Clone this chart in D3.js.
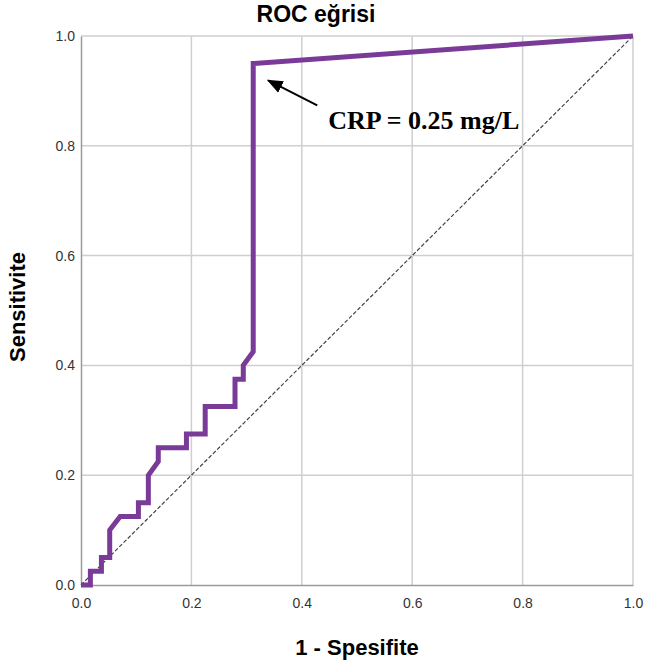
<!DOCTYPE html>
<html>
<head>
<meta charset="utf-8">
<script src="https://cdn.jsdelivr.net/npm/d3@7"></script>
<style>
  body { margin: 0; background: #fff; }
</style>
</head>
<body>
<div id="app"></div>
<script>
  'use strict'

  // 1 - specificity / sensitivity of the ROC steps
  const fpr = [0, 0.017, 0.017, 0.037, 0.037, 0.052, 0.052, 0.071, 0.104, 0.104, 0.122, 0.122, 0.14, 0.14, 0.191, 0.191, 0.225, 0.225, 0.279, 0.279, 0.294, 0.294, 0.312, 0.312, 1]
  const tpr = [0, 0, 0.025, 0.025, 0.05, 0.05, 0.1, 0.125, 0.125, 0.15, 0.15, 0.2, 0.225, 0.25, 0.25, 0.275, 0.275, 0.325, 0.325, 0.375, 0.375, 0.4, 0.425, 0.95, 1]
  const ticks = [0, 0.2, 0.4, 0.6, 0.8, 1.0]
  const refLine = [0, 1]
  const cutoff = { x: 0.312, y: 0.95, label: 'CRP = 0.25 mg/L' }

  const W = 646, H = 670
  const margin = { left: 81, right: 12, top: 36, bottom: 85 }

  const svg = d3.select('#app').append('svg')
    .attr('width', W)
    .attr('height', H)
    .style('font-family', 'Liberation Sans, Arial, sans-serif')

  const x = d3.scaleLinear().domain([0, 1]).range([margin.left, W - margin.right - 1])
  const y = d3.scaleLinear().domain([0, 1]).range([H - margin.bottom, margin.top])

  // grid
  svg.append('g').selectAll('line.v')
    .data(ticks.slice(1))
    .enter().append('line')
    .attr('x1', d => x(d)).attr('x2', d => x(d))
    .attr('y1', y(0)).attr('y2', y(1))
    .attr('stroke', '#cfcfcf').attr('stroke-width', 1.5)
  svg.append('g').selectAll('line.h')
    .data(ticks.slice(1))
    .enter().append('line')
    .attr('x1', x(0)).attr('x2', x(1))
    .attr('y1', d => y(d)).attr('y2', d => y(d))
    .attr('stroke', '#cfcfcf').attr('stroke-width', 1.5)

  // axes
  const xAxis = svg.append('g')
    .attr('transform', `translate(0,${y(0)})`)
    .call(d3.axisBottom(x).tickValues(ticks).tickFormat(d3.format('.1f')).tickSize(0).tickPadding(13))
  const yAxis = svg.append('g')
    .attr('transform', `translate(${x(0)},0)`)
    .call(d3.axisLeft(y).tickValues(ticks).tickFormat(d3.format('.1f')).tickSize(0).tickPadding(6))
  ;[xAxis, yAxis].forEach(a => {
    a.select('.domain').attr('stroke', '#9a9a9a').attr('stroke-width', 1.5)
    a.selectAll('text').attr('font-size', 14).attr('fill', '#333')
      .style('font-family', 'Liberation Sans, Arial, sans-serif')
  })

  // reference diagonal
  svg.append('line')
    .attr('x1', x(refLine[0])).attr('y1', y(refLine[0]))
    .attr('x2', x(refLine[1])).attr('y2', y(refLine[1]))
    .attr('stroke', '#444').attr('stroke-width', 1.2)
    .attr('stroke-dasharray', '4,2')

  // ROC curve
  const pts = fpr.map((d, i) => [d, tpr[i]])
  svg.append('path')
    .datum(pts)
    .attr('d', d3.line().x(d => x(d[0])).y(d => y(d[1])))
    .attr('fill', 'none')
    .attr('stroke', '#7a3b98')
    .attr('stroke-width', 5)
    .attr('stroke-linejoin', 'miter')

  // annotation arrow
  svg.append('defs').append('marker')
    .attr('id', 'arrow')
    .attr('viewBox', '0 0 10 10')
    .attr('refX', 9).attr('refY', 5)
    .attr('markerWidth', 8).attr('markerHeight', 8)
    .attr('orient', 'auto')
    .append('path').attr('d', 'M0,1 L10,5 L0,9 Z').attr('fill', '#000')
  svg.append('line')
    .attr('x1', x(cutoff.x) + 64).attr('y1', y(cutoff.y) + 42)
    .attr('x2', x(cutoff.x) + 15).attr('y2', y(cutoff.y) + 17)
    .attr('stroke', '#000').attr('stroke-width', 2)
    .attr('marker-end', 'url(#arrow)')
  svg.append('text')
    .attr('x', x(cutoff.x) + 75).attr('y', y(cutoff.y) + 66)
    .attr('font-family', 'Liberation Serif, Times New Roman, serif')
    .attr('font-weight', 'bold')
    .attr('font-size', 26)
    .text(cutoff.label)

  // titles
  svg.append('text')
    .attr('x', 316).attr('y', 22)
    .attr('text-anchor', 'middle')
    .attr('font-size', 23).attr('font-weight', 'bold')
    .text('ROC eğrisi')
  svg.append('text')
    .attr('x', (x(0) + x(1)) / 2).attr('y', 655)
    .attr('text-anchor', 'middle')
    .attr('font-size', 22).attr('font-weight', 'bold')
    .text('1 - Spesifite')
  svg.append('text')
    .attr('transform', `translate(25,307) rotate(-90)`)
    .attr('text-anchor', 'middle')
    .attr('font-size', 22).attr('font-weight', 'bold')
    .text('Sensitivite')
</script>
</body>
</html>
